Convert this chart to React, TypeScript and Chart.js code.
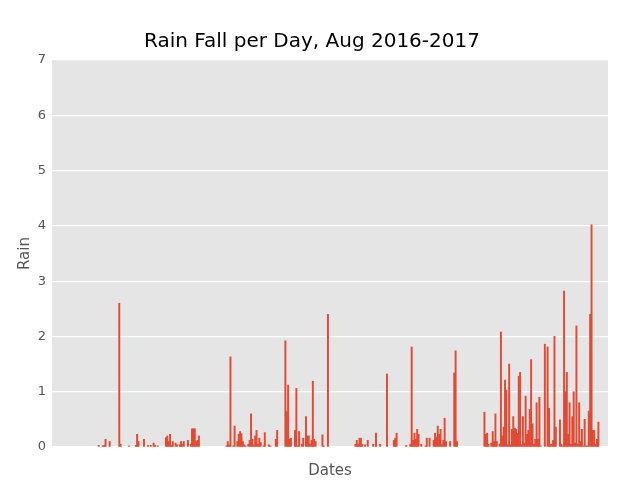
import React, { useEffect, useRef } from "react";
import { Chart, registerables } from "chart.js";
Chart.register(...registerables);

// day offset from 2016-08-23
const days = [1,4,5,6,9,16,17,23,28,29,30,34,37,39,41,42,44,50,51,52,53,54,55,57,58,60,61,62,63,66,68,69,70,71,72,73,74,
94,95,96,97,99,100,102,103,104,105,106,107,108,110,111,112,113,114,115,116,117,118,119,121,122,125,126,130,131,137,138,139,140,141,144,145,146,147,149,150,152,153,154,155,156,157,158,159,164,165,168,
188,189,190,191,192,193,195,197,201,203,206,211,216,217,218,225,228,229,230,231,232,233,234,236,239,240,242,245,246,247,248,249,250,251,252,253,254,257,260,261,262,
282,283,284,285,287,288,289,290,291,293,294,295,296,297,298,299,300,301,302,303,304,305,306,307,308,309,310,311,312,313,314,315,316,317,318,319,320,321,322,323,326,328,329,330,331,332,333,334,337,338,339,340,341,342,343,344,345,346,347,348,349,350,351,352,353,354,355,356,357,358,359,360,361,362,363,364,365];
const rain = [0.03,0.02,0.03,0.14,0.1,2.6,0.05,0.02,0.03,0.23,0.1,0.14,0.03,0.03,0.07,0.03,0.02,0.17,0.2,0.1,0.23,0.03,0.1,0.07,0.04,0.04,0.1,0.05,0.1,0.12,0.05,0.33,0.33,0.33,0.1,0.12,0.2,
0.02,0.1,0.04,1.63,0.02,0.38,0.1,0.23,0.28,0.24,0.1,0.04,0.02,0.05,0.12,0.6,0.14,0.04,0.2,0.3,0.05,0.16,0.08,0.02,0.26,0.04,0.02,0.14,0.3,1.92,0.64,1.12,0.14,0.16,0.3,1.06,0.02,0.28,0.05,0.16,0.55,0.2,0.2,0.05,0.12,1.19,0.14,0.1,0.22,0.02,2.4,
0.05,0.12,0.05,0.16,0.16,0.05,0.04,0.12,0.05,0.25,0.05,1.32,0.12,0.16,0.25,0.03,0.05,1.81,0.12,0.25,0.14,0.32,0.23,0.05,0.02,0.16,0.16,0.12,0.25,0.18,0.38,0.23,0.32,0.04,0.12,0.52,0.1,0.1,1.34,1.74,0.1,
0.63,0.23,0.25,0.05,0.07,0.28,0.1,0.6,0.1,0.05,2.08,0.2,0.36,1.21,1.03,0.04,1.5,0.04,0.32,0.55,0.34,0.32,0.25,1.28,1.35,0.04,0.55,0.07,0.92,0.23,0.3,0.68,1.58,0.42,0.05,0.14,0.8,0.14,0.9,0.02,1.86,1.81,0.7,0.05,0.05,0.12,2.0,0.36,0.49,0.05,0.02,2.82,1.0,1.35,0.23,0.8,0.05,0.55,1.0,0.07,2.19,0.05,0.8,0.1,0.32,0.02,0.5,0.02,0.02,0.65,2.4,4.02,0.3,0.3,0.05,0.14,0.45];
const yTicks = [0,1,2,3,4,5,6,7];

const bgPlugin = {
  id: "bg",
  beforeDraw(c: any) {
    const { ctx, chartArea: a } = c;
    ctx.save();
    ctx.fillStyle = "#E5E5E5";
    ctx.fillRect(a.left, a.top, a.right - a.left, a.bottom - a.top);
    ctx.restore();
  },
};

export default function App() {
  const ref = useRef<HTMLCanvasElement>(null);
  useEffect(() => {
    const font = "'DejaVu Sans', sans-serif";
    const chart = new Chart(ref.current!, {
      type: "bar",
      data: {
        datasets: [{
          data: days.map((d, i) => ({ x: d, y: rain[i] })),
          backgroundColor: "#E24A33",
          barThickness: 1.3,
        }],
      },
      options: {
        animation: false,
        responsive: false,
        layout: { padding: { top: 0, right: 32, left: 16, bottom: 0 } },
        plugins: {
          legend: { display: false },
          tooltip: { enabled: false },
          title: { display: true, text: "Rain Fall per Day, Aug 2016-2017", color: "#000", font: { family: font, size: 20, weight: "normal" }, padding: { top: 30, bottom: 6 } },
        },
        scales: {
          x: {
            type: "linear", min: -33, max: 372, offset: false,
            grid: { display: false }, border: { display: false },
            ticks: { display: false },
            title: { display: true, text: "Dates", color: "#555", font: { family: font, size: 15 }, padding: { top: 4, bottom: 0 } },
            afterFit: (s: any) => { s.height = 33; },
          },
          y: {
            min: 0, max: 7,
            afterBuildTicks: (s: any) => { s.ticks = yTicks.map((v) => ({ value: v })); },
            grid: { color: "#FFFFFF", lineWidth: 1.2, drawTicks: false },
            border: { display: false },
            ticks: { color: "#555", font: { family: font, size: 13 }, padding: 6 },
            title: { display: true, text: "Rain", color: "#555", font: { family: font, size: 15 }, padding: { top: 0, bottom: 2 } },
            afterFit: (s: any) => { s.width = 36; },
          },
        },
      },
      plugins: [bgPlugin],
    } as any);
    return () => chart.destroy();
  }, []);
  return (
    <div style={{ position: "fixed", left: 0, top: 0, width: 640, height: 480, background: "#fff" }}>
      <canvas ref={ref} width={640} height={480} style={{ width: 640, height: 480 }} />
    </div>
  );
}
